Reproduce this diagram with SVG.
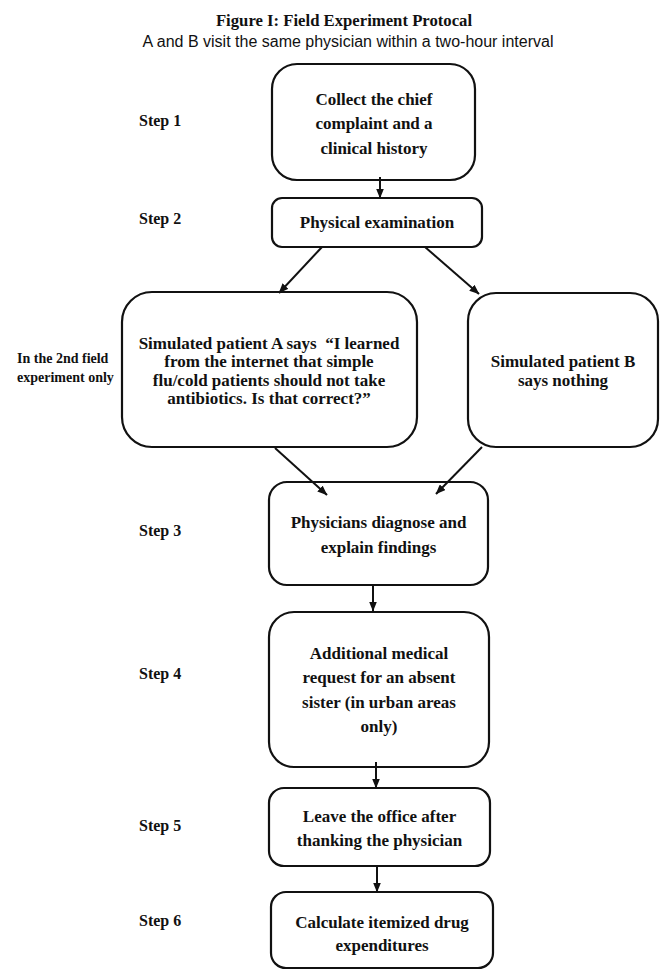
<svg xmlns="http://www.w3.org/2000/svg" width="662" height="970" viewBox="0 0 662 970">
  <style>
    .box { fill: #ffffff; stroke: #111111; stroke-width: 2.2; }
    .t { font-family: "Liberation Serif", "Times New Roman", serif; font-weight: bold; font-size: 17px; fill: #111111; text-anchor: middle; }
    .step { font-family: "Liberation Serif", "Times New Roman", serif; font-weight: bold; font-size: 16px; fill: #111111; }
    .side { font-family: "Liberation Serif", "Times New Roman", serif; font-weight: bold; font-size: 14px; fill: #111111; }
    .title { font-family: "Liberation Serif", "Times New Roman", serif; font-weight: bold; font-size: 16.7px; fill: #111111; text-anchor: middle; }
    .sub { font-family: "Liberation Sans", Arial, sans-serif; font-size: 16px; fill: #111111; text-anchor: middle; }
    .conn { stroke: #111111; stroke-width: 2; fill: none; marker-end: url(#arrow); }
  </style>
  <defs>
    <marker id="arrow" viewBox="0 0 10 8" refX="9.5" refY="4" markerWidth="10" markerHeight="8" markerUnits="userSpaceOnUse" orient="auto">
      <path d="M0,0 L10,4 L0,8 Z" fill="#111111"/>
    </marker>
  </defs>
  <rect width="662" height="970" fill="#ffffff"/>

  <g id="title">
    <text class="title" x="344" y="26">Figure I: Field Experiment Protocal</text>
    <text class="sub" x="348" y="47">A and B visit the same physician within a two-hour interval</text>
  </g>

  <g id="step-labels">
    <text class="step" x="139" y="125.5">Step 1</text>
    <text class="step" x="139" y="223.5">Step 2</text>
    <text class="step" x="139" y="535.5">Step 3</text>
    <text class="step" x="139" y="678.5">Step 4</text>
    <text class="step" x="139" y="830.5">Step 5</text>
    <text class="step" x="139" y="925.5">Step 6</text>
  </g>

  <g id="side-note">
    <text class="side" x="17" y="363">In the 2nd field</text>
    <text class="side" x="17" y="382">experiment only</text>
  </g>

  <g id="node-step1">
    <rect class="box" x="272" y="64" width="203" height="116" rx="25"/>
    <text class="t" x="374" y="104.5">Collect the chief</text>
    <text class="t" x="374" y="129">complaint and a</text>
    <text class="t" x="374" y="153.5">clinical history</text>
  </g>

  <g id="node-step2">
    <rect class="box" x="272" y="198" width="210" height="49" rx="10"/>
    <text class="t" x="377" y="228">Physical examination</text>
  </g>

  <g id="node-patientA">
    <rect class="box" x="122" y="292" width="295" height="155" rx="30"/>
    <text class="t" x="269" y="348.5">Simulated patient A says&#160; “I learned</text>
    <text class="t" x="269" y="367">from the internet that simple</text>
    <text class="t" x="269" y="385.5">flu/cold patients should not take</text>
    <text class="t" x="269" y="404">antibiotics. Is that correct?”</text>
  </g>

  <g id="node-patientB">
    <rect class="box" x="468" y="293" width="190" height="154" rx="28"/>
    <text class="t" x="563" y="367">Simulated patient B</text>
    <text class="t" x="563" y="386">says nothing</text>
  </g>

  <g id="node-step3">
    <rect class="box" x="269" y="482" width="219" height="103" rx="18"/>
    <text class="t" x="378.5" y="527.5">Physicians diagnose and</text>
    <text class="t" x="378.5" y="552.5">explain findings</text>
  </g>

  <g id="node-step4">
    <rect class="box" x="269" y="612" width="220" height="155" rx="25"/>
    <text class="t" x="379" y="658.5">Additional medical</text>
    <text class="t" x="379" y="683">request for an absent</text>
    <text class="t" x="379" y="707.5">sister (in urban areas</text>
    <text class="t" x="379" y="732">only)</text>
  </g>

  <g id="node-step5">
    <rect class="box" x="269" y="788" width="221" height="78" rx="15"/>
    <text class="t" x="379.5" y="821.5">Leave the office after</text>
    <text class="t" x="379.5" y="845.5">thanking the physician</text>
  </g>

  <g id="node-step6">
    <rect class="box" x="271" y="892" width="222" height="76" rx="15"/>
    <text class="t" x="382" y="927.5">Calculate itemized drug</text>
    <text class="t" x="382" y="950.5">expenditures</text>
  </g>

  <g id="connectors">
    <line class="conn" x1="380" y1="177" x2="380" y2="198"/>
    <line class="conn" x1="322" y1="247" x2="279" y2="293"/>
    <line class="conn" x1="425" y1="247" x2="479" y2="294"/>
    <line class="conn" x1="275" y1="448" x2="327" y2="495"/>
    <line class="conn" x1="482" y1="447" x2="436" y2="494"/>
    <line class="conn" x1="373" y1="585" x2="373" y2="611"/>
    <line class="conn" x1="376" y1="762" x2="376" y2="788"/>
    <line class="conn" x1="377" y1="866" x2="377" y2="892"/>
  </g>
</svg>
